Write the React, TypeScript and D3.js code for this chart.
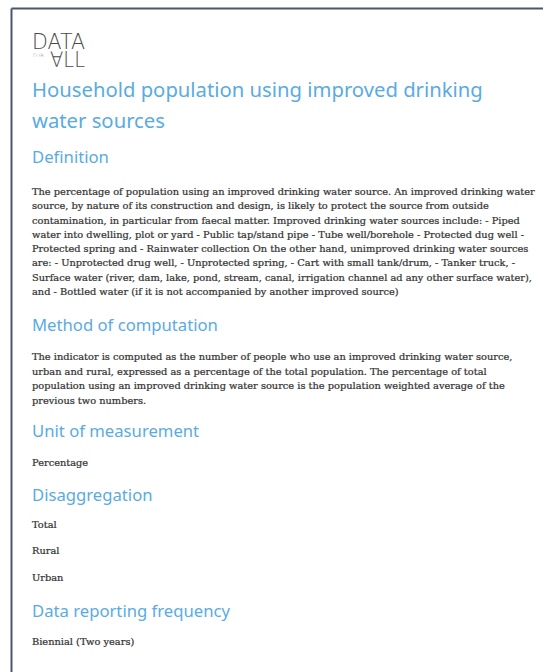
import React, { useLayoutEffect, useRef, useState } from "react";
import * as d3 from "d3";

// page text, line breaks as in the printed sheet
const titleLines = ["Household population using improved drinking", "water sources"];

const headings = [
  "Definition",
  "Method of computation",
  "Unit of measurement",
  "Disaggregation",
  "Data reporting frequency",
];

const definitionLines = [
  "The percentage of population using an improved drinking water source. An improved drinking water",
  "source, by nature of its construction and design, is likely to protect the source from outside",
  "contamination, in particular from faecal matter. Improved drinking water sources include: - Piped",
  "water into dwelling, plot or yard - Public tap/stand pipe - Tube well/borehole - Protected dug well -",
  "Protected spring and - Rainwater collection On the other hand, unimproved drinking water sources",
  "are: - Unprotected drug well, - Unprotected spring, - Cart with small tank/drum, - Tanker truck, -",
  "Surface water (river, dam, lake, pond, stream, canal, irrigation channel ad any other surface water),",
  "and - Bottled water (if it is not accompanied by another improved source)",
];

const methodLines = [
  "The indicator is computed as the number of people who use an improved drinking water source,",
  "urban and rural, expressed as a percentage of the total population. The percentage of total",
  "population using an improved drinking water source is the population weighted average of the",
  "previous two numbers.",
];

const unitLines = ["Percentage"];
const disaggregationLines = ["Total", "Rural", "Urban"];
const frequencyLines = ["Biennial (Two years)"];

const W = 543;
const H = 672;
const left = 32;
const blue = "#5aabe2";
const ink = "#363636";

const sections = [
  { head: headings[0], lines: definitionLines, y: 163, gap: 32, step: 14.3 },
  { head: headings[1], lines: methodLines, y: 331, gap: 29, step: 14.7 },
  { head: headings[2], lines: unitLines, y: 437, gap: 29, step: 14 },
  { head: headings[3], lines: disaggregationLines, y: 501, gap: 27, step: 26.5 },
  { head: headings[4], lines: frequencyLines, y: 617, gap: 28, step: 14 },
];

export default function App() {
  const titleRef = useRef<SVGTextElement>(null);
  const headRef = useRef<SVGTextElement>(null);
  const bodyRef = useRef<SVGTextElement>(null);
  const [k, setK] = useState({ title: 1, head: 1, body: 1 });

  useLayoutEffect(() => {
    // squeeze each font family to the widths seen on the sheet
    const t = titleRef.current?.getComputedTextLength() || 451;
    const h = headRef.current?.getComputedTextLength() || 186;
    const b = bodyRef.current?.getComputedTextLength() || 503;
    setK({ title: 451 / t, head: 186 / h, body: 503 / b });
  }, []);

  const titleY = d3.scaleLinear().domain([0, 1]).range([97, 128]);

  return (
    <svg width={W} height={H} style={{ position: "absolute", left: 0, top: 0, background: "#fff" }}>
      <rect width={W} height={H} fill="#fff" />
      {/* page frame */}
      <line x1={11.5} y1={8.5} x2={W} y2={8.5} stroke="#4b5670" strokeWidth={2} />
      <line x1={11.5} y1={8.5} x2={11.5} y2={H} stroke="#4b5670" strokeWidth={2} />

      {/* logo */}
      <g fill="#4a4a4a" fontFamily="DejaVu Sans ExtraLight, DejaVu Sans" fontWeight={200}>
        <text x={32} y={49} fontSize={22} textLength={53} lengthAdjust="spacingAndGlyphs">
          DATA
        </text>
        <text x={33} y={57} fontSize={4.5} fontFamily="DejaVu Sans" fill="#777" textLength={11} lengthAdjust="spacingAndGlyphs">
          FOR
        </text>
        <text x={50} y={67} fontSize={21} textLength={35} lengthAdjust="spacingAndGlyphs">
          ∀LL
        </text>
      </g>

      {/* title */}
      <g transform={`translate(${left},0) scale(${k.title},1)`} fill={blue} fontFamily="Noto Sans" fontSize={20.5}>
        {titleLines.map((s, i) => (
          <text key={i} ref={i === 0 ? titleRef : undefined} x={0} y={titleY(i)}>
            {s}
          </text>
        ))}
      </g>

      {sections.map((sec, si) => {
        const y = d3
          .scaleLinear()
          .domain([0, 1])
          .range([sec.y + sec.gap, sec.y + sec.gap + sec.step]);
        return (
          <g key={si}>
            <g transform={`translate(${left},0) scale(${k.head},1)`} fill={blue} fontFamily="Noto Sans" fontSize={17}>
              <text ref={si === 1 ? headRef : undefined} x={0} y={sec.y}>
                {sec.head}
              </text>
            </g>
            <g
              transform={`translate(${left},0) scale(${k.body},1)`}
              fill={ink}
              stroke={ink}
              strokeWidth={0.25}
              fontFamily="DejaVu Serif"
              fontSize={9.6}
            >
              {sec.lines.map((s, i) => (
                <text key={i} ref={si === 0 && i === 0 ? bodyRef : undefined} x={0} y={y(i)}>
                  {s}
                </text>
              ))}
            </g>
          </g>
        );
      })}
    </svg>
  );
}
